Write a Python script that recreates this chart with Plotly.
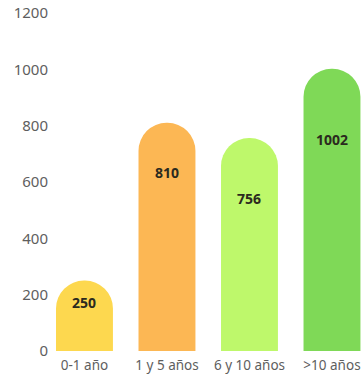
import plotly.graph_objects as go

# Antigüedad: número por tramo de años
categories = ["0-1 año", "1 y 5 años", "6 y 10 años", ">10 años"]
values = [250, 810, 756, 1002]
colors = ["#FDD84F", "#FCB754", "#BEF86B", "#7FD957"]
y_ticks = [0, 200, 400, 600, 800, 1000, 1200]

# vertical pixel offset of each value label below its bar top
label_shift = [-22, -50, -60, -71]

fig = go.Figure(
    go.Bar(
        x=categories,
        y=values,
        marker=dict(color=colors, line=dict(width=0)),
        hoverinfo="skip",
    )
)

for cat, val, dy in zip(categories, values, label_shift):
    fig.add_annotation(
        x=cat, y=val, yshift=dy, text=f"<b>{val}</b>", showarrow=False,
        font=dict(family="Noto Sans, sans-serif", size=14, color="#2B2A1E"),
    )

fig.update_layout(
    width=363, height=374,
    margin=dict(l=49, r=0, t=13, b=23),
    paper_bgcolor="white", plot_bgcolor="white",
    bargap=0.31,
    barcornerradius="50%",
    showlegend=False,
    xaxis=dict(
        range=[-0.43, 3.376],
        showgrid=False, zeroline=False, showline=False, ticks="",
        ticklabelstandoff=4,
        tickfont=dict(family="Noto Sans, sans-serif", size=13.5, color="#5E5E5E"),
    ),
    yaxis=dict(
        range=[0, 1200], tickvals=y_ticks,
        showgrid=False, zeroline=False, showline=False, ticks="",
        tickfont=dict(family="Noto Sans, sans-serif", size=15, color="#5E5E5E"),
    ),
)

fig.write_html("out.html")
